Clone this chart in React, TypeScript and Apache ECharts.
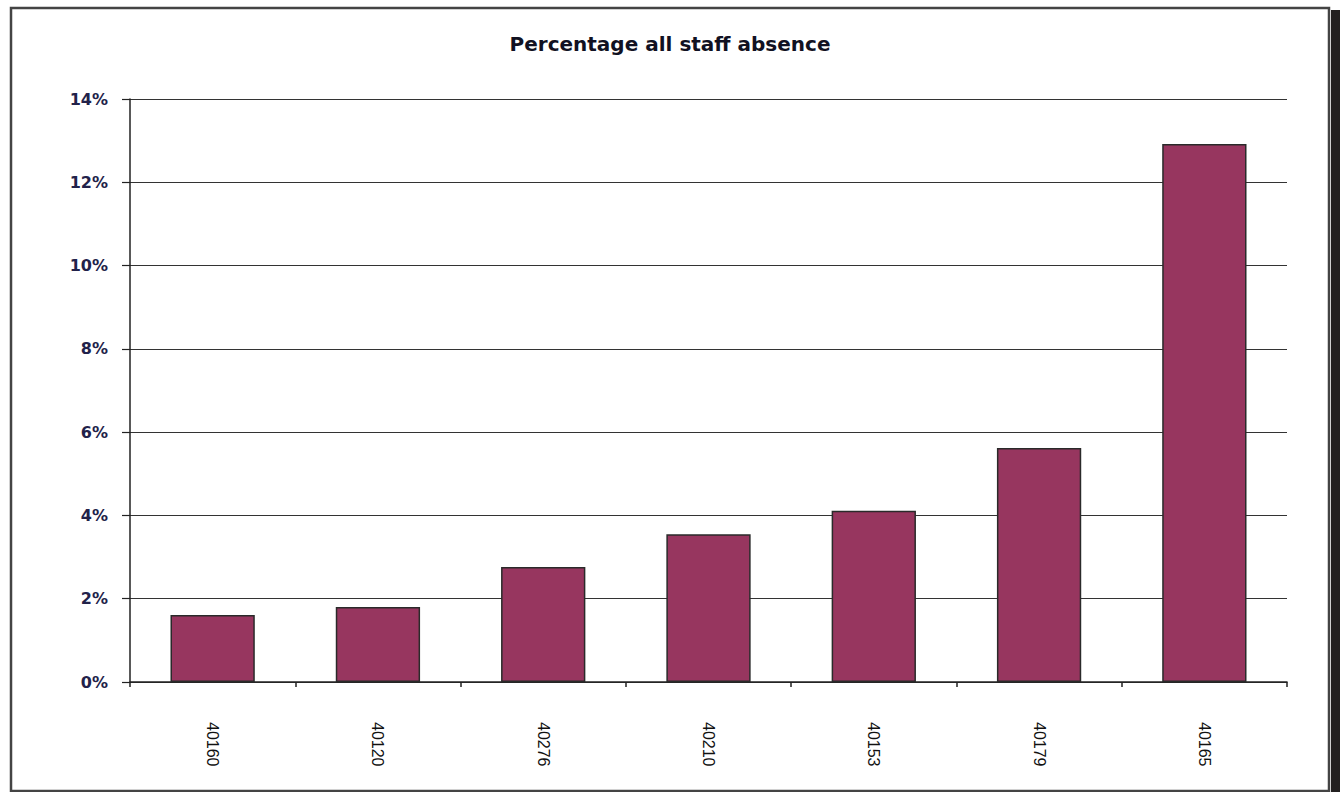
import React, { useEffect, useRef } from "react";
import * as echarts from "echarts";

const categories = ["40160", "40120", "40276", "40210", "40153", "40179", "40165"];
const absencePct = [1.61, 1.8, 2.76, 3.55, 4.11, 5.62, 12.92];
const yTicks = [0, 2, 4, 6, 8, 10, 12, 14];
const titleText = "Percentage all staff absence";

export default function App() {
  const ref = useRef<HTMLDivElement>(null);
  useEffect(() => {
    if (!ref.current) return;
    const chart = echarts.init(ref.current, undefined, { renderer: "svg" });
    chart.setOption({
      animation: false,
      backgroundColor: "#ffffff",
      title: {
        text: titleText,
        left: "center",
        top: 29,
        textStyle: {
          fontFamily: "DejaVu Sans",
          fontWeight: "bold",
          fontSize: 20,
          color: "#111122",
        },
      },
      graphic: [
        {
          type: "rect",
          shape: { x: 11, y: 8, width: 1318, height: 783 },
          style: { fill: "none", stroke: "#444", lineWidth: 2.5 },
          z: 100,
        },
        {
          type: "rect",
          shape: { x: 1331, y: 10, width: 9, height: 782 },
          style: { fill: "#232020" },
          z: 100,
        },
      ],
      grid: { left: 130, right: 53, top: 99, bottom: 110 },
      xAxis: {
        type: "category",
        data: categories,
        axisLine: { lineStyle: { color: "#222", width: 1.5 } },
        axisTick: { show: true, length: 5, lineStyle: { color: "#222", width: 1.5 } },
        axisLabel: {
          rotate: -90,
          margin: 40,
          fontFamily: "Liberation Sans",
          fontSize: 16,
          color: "#111",
        },
      },
      yAxis: {
        type: "value",
        min: yTicks[0],
        max: yTicks[yTicks.length - 1],
        interval: 2,
        axisLine: { show: true, lineStyle: { color: "#222", width: 1.5 } },
        axisTick: { show: true, length: 8, lineStyle: { color: "#222", width: 1.2 } },
        splitLine: { show: true, lineStyle: { color: "#333", width: 1 } },
        axisLabel: {
          formatter: (v: number) => `${v}%`,
          margin: 22,
          fontFamily: "DejaVu Sans",
          fontWeight: "bold",
          fontSize: 16,
          color: "#22224a",
        },
      },
      series: [
        {
          type: "bar",
          data: absencePct,
          barWidth: "51%",
          itemStyle: { color: "#97365f", borderColor: "#2a2a2a", borderWidth: 1.5 },
        },
      ],
    });
    return () => chart.dispose();
  }, []);
  return (
    <div
      ref={ref}
      style={{ position: "fixed", left: 0, top: 0, width: 1340, height: 792 }}
    />
  );
}
